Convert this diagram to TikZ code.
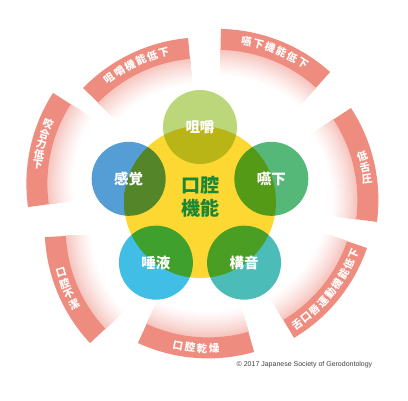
\documentclass[tikz,border=0pt]{standalone}
\usepackage{fontspec}
\usepackage{tikz}
\usetikzlibrary{calc}
\newfontfamily\jp{Noto Sans CJK JP}
\newfontfamily\lat{Liberation Sans}
\definecolor{salmon}{RGB}{238,140,128}
\definecolor{yel}{RGB}{253,215,50}
\definecolor{chew}{RGB}{188,215,122}
\definecolor{swallow}{RGB}{85,183,120}
\definecolor{speech}{RGB}{75,188,184}
\definecolor{saliva}{RGB}{64,190,230}
\definecolor{sense}{RGB}{85,158,213}
\definecolor{core}{RGB}{25,135,55}
\pgfdeclareradialshading{yelglow}{\pgfpointorigin}{color(0bp)=(yel); color(42bp)=(yel); color(50bp)=(white)}

\tikzset{
  band/.style={fill=salmon},
  ringchar/.style={text=white, inner sep=0pt, font=\jp\bfseries\fontsize{10.5}{11}\selectfont},
  bubble/.style={circle, minimum size=74pt, inner sep=0pt},
  bubbletext/.style={text=white, font=\jp\bfseries\fontsize{14.5}{15}\selectfont},
}

% one piece of the outer ring: centre, start angle, end angle
\newcommand{\ringseg}[3]{
  \foreach \k in {24,...,0}{
    \pgfmathsetmacro{\shadeamt}{50*(1-\k/25)^1.3}
    \pgfmathsetmacro{\rr}{147-(\k+1)*1.05}
    \fill[salmon!\shadeamt!white] ($(#1)+(#2:147)$) arc[start angle=#2, end angle=#3, radius=147] -- ($(#1)+(#3:\rr)$) arc[start angle=#3, end angle=#2, radius=\rr] -- cycle;
  }
  \fill[band] ($(#1)+(#2:168)$) arc[start angle=#2, end angle=#3, radius=168] -- ($(#1)+(#3:147)$) arc[start angle=#3, end angle=#2, radius=147] -- cycle;
}
% letters along a piece: centre, mid angle, step, turn, count, letters
\newcommand{\ringtext}[6]{
  \foreach \kana [count=\i] in {#6}{
    \pgfmathsetmacro{\angl}{#2+(#3)*(\i-(#5+1)/2)}
    \pgfmathsetmacro{\rot}{\angl+(#4)}
    \node[ringchar, rotate=\rot] (#1t\i) at ($(#1)+(\angl:158)$) {\kana};
  }
}

\begin{document}
\begin{tikzpicture}[x=1pt, y=1pt]
\useasboundingbox (0,0) rectangle (408,400);
\coordinate (s1) at (203.3,194.7);
\coordinate (s2) at (217.7,203.1);
\coordinate (s3) at (210.4,200);
\coordinate (s4) at (208,206.4);
\coordinate (s5) at (208.1,209.6);
\coordinate (s6) at (212.7,171.7);
\coordinate (s7) at (194.4,216.3);
\coordinate (O) at (200,198);

\ringseg{s1}{95.2}{135.7}
\ringseg{s2}{48}{88.9}
\ringseg{s3}{-7.5}{33.2}
\ringseg{s4}{-59.2}{-18.9}
\ringseg{s5}{-114.7}{-74.1}
\ringseg{s6}{183}{223.1}
\ringseg{s7}{147.3}{188}

\ringtext{s1}{115.45}{-4.4}{-90}{6}{咀,嚼,機,能,低,下}
\ringtext{s2}{68.45}{-4.4}{-90}{6}{嚥,下,機,能,低,下}
\ringtext{s3}{11.8}{-4.1}{0}{3}{低,舌,圧}
\ringtext{s4}{-39.05}{4.15}{90}{9}{舌,口,唇,運,動,機,能,低,下}
\ringtext{s5}{-94.4}{4.4}{90}{4}{口,腔,乾,燥}
\ringtext{s6}{202.5}{4.1}{-180}{4}{口,腔,不,潔}
\ringtext{s7}{165.5}{3.8}{-180}{5}{咬,合,力,低,下}

\shade[shading=yelglow] (O) circle (76);
\begin{scope}[blend mode=multiply]
\node[bubble, fill=chew] (chew) at ($(O)+(90:75)$) {};
\node[bubble, fill=swallow] (swallow) at ($(O)+(18:75)$) {};
\node[bubble, fill=speech] (speech) at ($(O)+(-54:75)$) {};
\node[bubble, fill=saliva] (saliva) at ($(O)+(-126:75)$) {};
\node[bubble, fill=sense] (sense) at ($(O)+(162:75)$) {};
\end{scope}
\node[bubbletext] (chewtxt) at (chew) {咀嚼};
\node[bubbletext] (swallowtxt) at (swallow) {嚥下};
\node[bubbletext] (speechtxt) at (speech) {構音};
\node[bubbletext] (salivatxt) at (saliva) {唾液};
\node[bubbletext] (sensetxt) at (sense) {感覚};
\node[text=core, align=center, font=\jp\bfseries\fontsize{19}{23}\selectfont] (coretxt) at (200,203.5) {口腔\\機能};

\node[text=black!75, font=\lat\fontsize{7}{8}\selectfont] (copy) at (304.5,35) {© 2017 Japanese Society of Gerodontology};
\end{tikzpicture}
\end{document}
